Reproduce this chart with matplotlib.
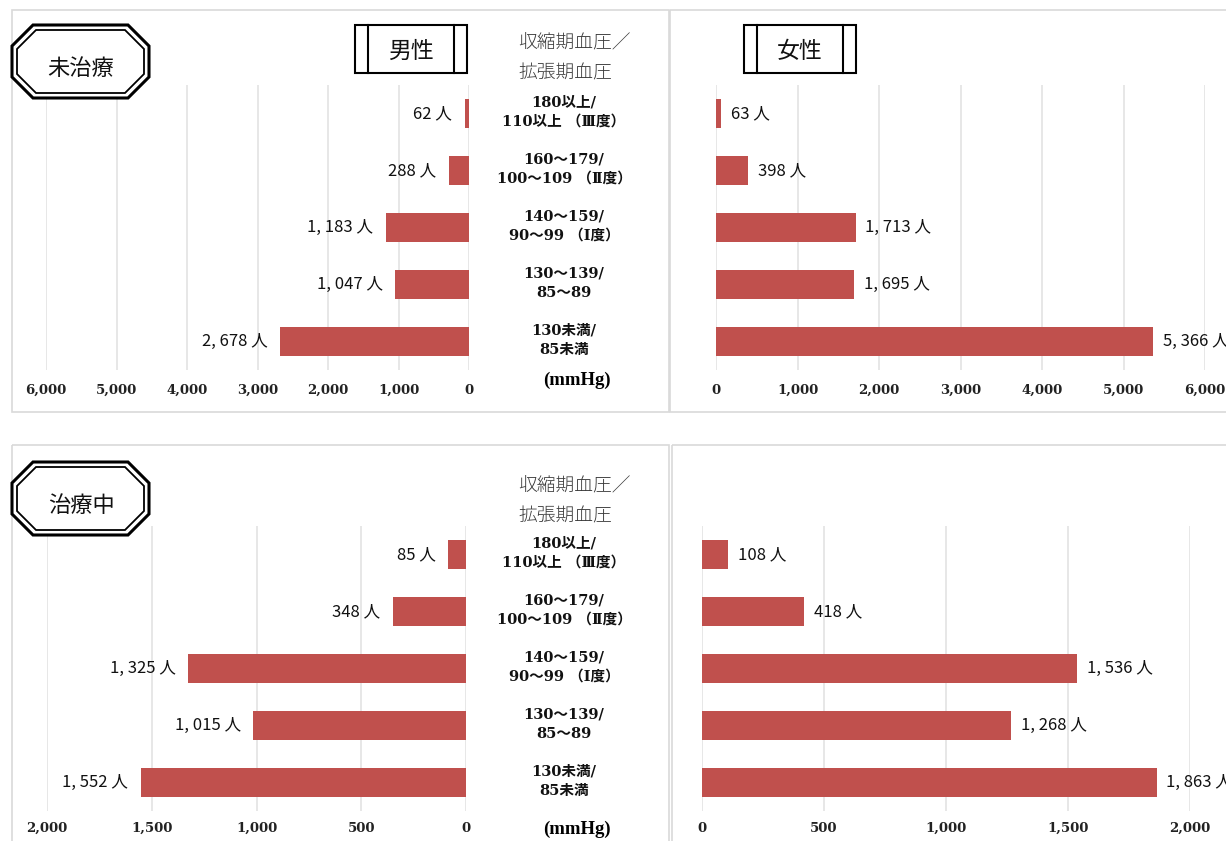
import matplotlib
matplotlib.use("Agg")
import matplotlib.pyplot as plt
from matplotlib.patches import Polygon, Rectangle
from matplotlib.transforms import blended_transform_factory

# Blood pressure class counts (people)
categories = ["180以上/\n110以上 （Ⅲ度）",
              "160〜179/\n100〜109 （Ⅱ度）",
              "140〜159/\n90〜99 （Ⅰ度）",
              "130〜139/\n85〜89",
              "130未満/\n85未満"]
untreated_male = [62, 288, 1183, 1047, 2678]
untreated_female = [63, 398, 1713, 1695, 5366]
treated_male = [85, 348, 1325, 1015, 1552]
treated_female = [108, 418, 1536, 1268, 1863]
untreated_ticks = [0, 1000, 2000, 3000, 4000, 5000, 6000]
treated_ticks = [0, 500, 1000, 1500, 2000]

BAR_COLOR = "#c0504d"
GRID_COLOR = "#e3e3e3"
W, H = 1226, 841
JP = ["Noto Sans CJK JP", "DejaVu Sans"]
SERIF_JP = ["DejaVu Serif", "Noto Sans CJK JP"]

fig = plt.figure(figsize=(W / 100, H / 100), dpi=100)


def px_rect(x0, y0, x1, y1):
    return [x0 / W, 1 - y1 / H, (x1 - x0) / W, (y1 - y0) / H]


def label(v):
    return f"{v:,}".replace(",", ", ") + " 人"


def draw_panel(box, values, ticks, left, pad):
    ax = fig.add_axes(px_rect(*box))
    ax.patch.set_alpha(0)
    ypos = range(len(values))
    ax.barh(ypos, values, height=0.5, color=BAR_COLOR, zorder=3)
    if left:
        ax.set_xlim(ticks[-1], 0)
    else:
        ax.set_xlim(0, ticks[-1])
    ax.set_ylim(len(values) - 0.5, -0.5)
    ax.set_xticks(ticks)
    ax.set_xticklabels([f"{t:,}" for t in ticks], family="DejaVu Serif",
                       fontweight="bold", fontsize=9.5, color="#222222")
    ax.tick_params(axis="x", length=0, pad=pad)
    ax.set_yticks([])
    ax.grid(axis="x", color=GRID_COLOR, lw=1.2, zorder=0)
    for s in ax.spines.values():
        s.set_visible(False)
    for y, v in zip(ypos, values):
        off = -9 if left else 7
        ax.annotate(label(v), (v, y), xytext=(off, 0), textcoords="offset points",
                    ha="right" if left else "left", va="center",
                    family=JP, fontsize=12, color="#111111")
    return ax


ax_tl = draw_panel((46, 85, 469, 370), untreated_male, untreated_ticks, True, 10)
ax_tr = draw_panel((716, 85, 1205, 370), untreated_female, untreated_ticks, False, 10)
ax_bl = draw_panel((47, 526, 466, 811), treated_male, treated_ticks, True, 8)
ax_br = draw_panel((702, 526, 1190, 811), treated_female, treated_ticks, False, 8)

# category labels in the gap between the male and female panels
for ax, head_y, unit_y in [(ax_tl, 43, 380), (ax_bl, 486, 829)]:
    tr = blended_transform_factory(fig.transFigure, ax.transData)
    for i, c in enumerate(categories):
        ax.text(564 / W, i - 0.03, c, transform=tr, ha="center", va="center",
                family=SERIF_JP, fontsize=10.5, fontweight="bold",
                linespacing=1.5, color="#111111")
    fig.text(577 / W, 1 - unit_y / H, "(mmHg)", ha="center", va="center",
             family="Liberation Serif", fontweight="bold", fontsize=13.5)
    fig.text(518 / W, 1 - head_y / H, "収縮期血圧／", ha="left", va="center",
             family=JP, fontweight="light", fontsize=13.5, color="#3a3a3a")
    fig.text(518 / W, 1 - (head_y + 30) / H, "拡張期血圧", ha="left", va="center",
             family=JP, fontweight="light", fontsize=13.5, color="#3a3a3a")

# frames, headings and gender boxes drawn in pixel space
ov = fig.add_axes([0, 0, 1, 1])
ov.set_xlim(0, W)
ov.set_ylim(H, 0)
ov.axis("off")
ov.patch.set_alpha(0)
ov.set_zorder(10)

for x0, y0, x1, y1 in [(12, 10, 669, 412), (670, 10, 1232, 412),
                       (12, 445, 669, 848), (672, 445, 1232, 848)]:
    ov.add_patch(Rectangle((x0, y0), x1 - x0, y1 - y0, fill=False,
                           ec="#d9d9d9", lw=1.2))


def octagon(x0, y0, x1, y1, c):
    return [(x0 + c, y0), (x1 - c, y0), (x1, y0 + c), (x1, y1 - c),
            (x1 - c, y1), (x0 + c, y1), (x0, y1 - c), (x0, y0 + c)]


for top, title in [(25, "未治療"), (462, "治療中")]:
    ov.add_patch(Polygon(octagon(12, top, 149, top + 73, 21), closed=True,
                         fc="white", ec="black", lw=2.2))
    ov.add_patch(Polygon(octagon(17, top + 5, 144, top + 68, 19), closed=True,
                         fill=False, ec="black", lw=1.3))
    ov.text(81, top + 43, title, ha="center", va="center", family=JP,
            fontsize=16, color="#111111")

for x0, title in [(355, "男性"), (744, "女性")]:
    ov.add_patch(Rectangle((x0, 25), 112, 48, fc="white", ec="black", lw=1.5))
    ov.plot([x0 + 13, x0 + 13], [25, 73], color="black", lw=1.5)
    ov.plot([x0 + 99, x0 + 99], [25, 73], color="black", lw=1.5)
    ov.text(x0 + 56, 51, title, ha="center", va="center", family=JP,
            fontsize=16.5, color="#111111")

fig.savefig("out.png", dpi=100, facecolor="white")
